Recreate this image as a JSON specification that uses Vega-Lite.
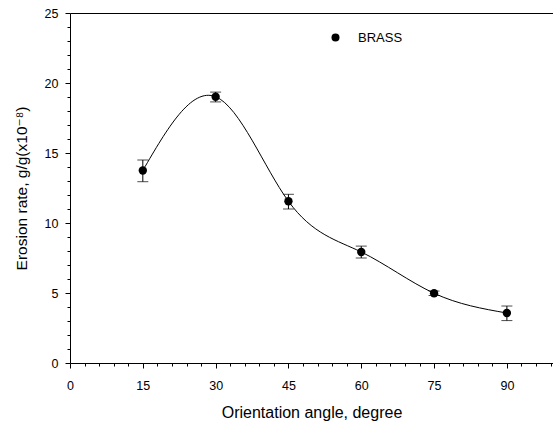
{
  "$schema": "https://vega.github.io/schema/vega-lite/v6.json",
  "width": 483,
  "height": 350,
  "autosize": {"type": "none"},
  "padding": {"left": 70, "top": 13, "right": 0, "bottom": 59},
  "background": "white",
  "data": {
    "values": [
      {"angle": 15, "rate": 13.75, "lo": 12.95, "hi": 14.5, "series": "BRASS"},
      {"angle": 30, "rate": 19.02, "lo": 18.65, "hi": 19.35, "series": "BRASS"},
      {"angle": 45, "rate": 11.55, "lo": 11.0, "hi": 12.05, "series": "BRASS"},
      {"angle": 60, "rate": 7.93, "lo": 7.5, "hi": 8.35, "series": "BRASS"},
      {"angle": 75, "rate": 4.98, "lo": 4.82, "hi": 5.14, "series": "BRASS"},
      {"angle": 90, "rate": 3.57, "lo": 3.03, "hi": 4.07, "series": "BRASS"}
    ]
  },
  "config": {
    "view": {"stroke": null},
    "axis": {
      "grid": false,
      "domainColor": "black",
      "tickColor": "black",
      "labelColor": "black",
      "titleColor": "black",
      "labelFont": "Liberation Sans",
      "titleFont": "Liberation Sans, DejaVu Sans",
      "labelFontSize": 12.5,
      "titleFontSize": 16,
      "titleFontWeight": "normal",
      "domainWidth": 1,
      "tickWidth": 1
    },
    "legend": {
      "orient": "none",
      "legendX": 259,
      "legendY": 18,
      "padding": 0,
      "labelFont": "Liberation Sans",
      "labelFontSize": 13,
      "labelColor": "black",
      "labelOffset": 16,
      "symbolSize": 64,
      "symbolType": "circle",
      "symbolStrokeWidth": 0
    }
  },
  "layer": [
    {
      "mark": {"type": "line", "interpolate": "natural", "color": "black", "strokeWidth": 1},
      "encoding": {
        "x": {
          "field": "angle",
          "type": "quantitative",
          "scale": {"domain": [0, 99.5], "nice": false, "zero": false},
          "axis": {
            "orient": "bottom",
            "values": [0, 15, 30, 45, 60, 75, 90],
            "tickSize": 5,
            "labelPadding": 11,
            "labelFlush": false,
            "title": "Orientation angle, degree",
            "titlePadding": 13
          }
        },
        "y": {
          "field": "rate",
          "type": "quantitative",
          "scale": {"domain": [0, 25], "nice": false},
          "axis": {
            "orient": "left",
            "values": [0, 5, 10, 15, 20, 25],
            "tickSize": 5,
            "labelPadding": 7,
            "title": "Erosion rate, g/g(x10⁻⁸)",
            "titleFontSize": 15.5,
            "titlePadding": 15
          }
        }
      }
    },
    {
      "mark": {"type": "rule", "color": "black", "strokeWidth": 1},
      "encoding": {
        "x": {
          "field": "angle",
          "type": "quantitative",
          "axis": {
            "orient": "bottom",
            "values": [3, 6, 9, 12, 18, 21, 24, 27, 33, 36, 39, 42, 48, 51, 54, 57, 63, 66, 69, 72, 78, 81, 84, 87, 93, 96, 99],
            "tickSize": 3,
            "labels": false,
            "domain": false,
            "title": null
          }
        },
        "y": {
          "field": "lo",
          "type": "quantitative",
          "axis": {
            "orient": "left",
            "values": [1, 2, 3, 4, 6, 7, 8, 9, 11, 12, 13, 14, 16, 17, 18, 19, 21, 22, 23, 24],
            "tickSize": 3,
            "labels": false,
            "domain": false,
            "title": null
          }
        },
        "y2": {"field": "hi"}
      }
    },
    {
      "mark": {"type": "tick", "orient": "horizontal", "size": 11, "thickness": 1, "color": "black"},
      "encoding": {
        "x": {
          "field": "angle",
          "type": "quantitative",
          "axis": {"orient": "top", "ticks": false, "labels": false, "domain": true, "title": null}
        },
        "y": {"field": "lo", "type": "quantitative", "axis": null}
      }
    },
    {
      "mark": {"type": "tick", "orient": "horizontal", "size": 11, "thickness": 1, "color": "black"},
      "encoding": {
        "x": {"field": "angle", "type": "quantitative", "axis": null},
        "y": {"field": "hi", "type": "quantitative", "axis": null}
      }
    },
    {
      "mark": {"type": "point", "filled": true, "size": 70, "opacity": 1},
      "encoding": {
        "x": {"field": "angle", "type": "quantitative", "axis": null},
        "y": {"field": "rate", "type": "quantitative", "axis": null},
        "color": {
          "field": "series",
          "type": "nominal",
          "scale": {"range": ["black"]},
          "legend": {"title": null}
        }
      }
    }
  ],
  "resolve": {"axis": {"x": "independent", "y": "independent"}}
}
